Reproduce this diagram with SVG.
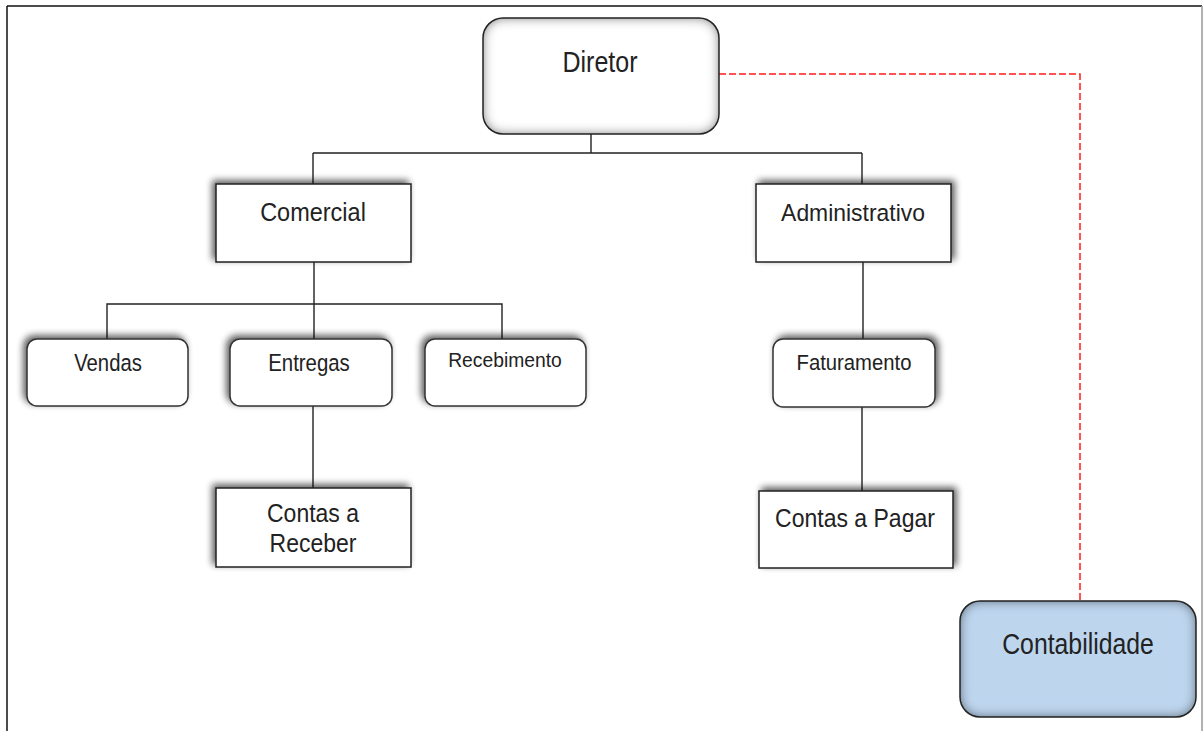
<svg xmlns="http://www.w3.org/2000/svg" width="1203" height="731" viewBox="0 0 1203 731">
<style>
text{font-family:"Liberation Sans",Arial,sans-serif;fill:#222;text-anchor:middle}
.box{fill:#fff;stroke:#222;stroke-width:1.5}
.rbox{fill:#fff;stroke:#333;stroke-width:1.5}
.conn{stroke:#222;stroke-width:1.4;fill:none}
.dash{stroke:#ff1a1a;stroke-width:1.5;fill:none;stroke-dasharray:7 3}
</style>
<defs>
<filter id="shL" x="-20%" y="-30%" width="140%" height="160%">
<feGaussianBlur in="SourceAlpha" stdDeviation="3.5"/>
<feOffset dx="-3" dy="-3" result="b"/>
<feComponentTransfer><feFuncA type="linear" slope="0.65"/></feComponentTransfer>
<feMerge><feMergeNode/><feMergeNode in="SourceGraphic"/></feMerge>
</filter>
<filter id="shR" x="-20%" y="-30%" width="140%" height="160%">
<feGaussianBlur in="SourceAlpha" stdDeviation="3.5"/>
<feOffset dx="3" dy="-3" result="b"/>
<feComponentTransfer><feFuncA type="linear" slope="0.65"/></feComponentTransfer>
<feMerge><feMergeNode/><feMergeNode in="SourceGraphic"/></feMerge>
</filter>
<filter id="inner" x="-10%" y="-10%" width="120%" height="120%">
<feFlood flood-color="#000" flood-opacity="1"/>
<feComposite in2="SourceAlpha" operator="out"/>
<feGaussianBlur stdDeviation="6"/>
<feComposite in2="SourceAlpha" operator="in" result="sh"/>
<feMerge><feMergeNode in="SourceGraphic"/><feMergeNode in="sh"/></feMerge>
</filter>
</defs>
<rect width="1203" height="731" fill="#fff"/>
<g id="frame" fill="none">
<line x1="7" y1="6" x2="1202" y2="6" stroke="#111" stroke-width="1.5"/>
<line x1="7" y1="6" x2="7" y2="731" stroke="#111" stroke-width="1.5"/>
<line x1="1202" y1="6" x2="1202" y2="731" stroke="#999" stroke-width="1.5"/>
</g>
<g id="connectors">
<path class="conn" d="M591 134V153M313 153H862M313 153V184M862 153V184"/>
<path class="conn" d="M314 262V339M107 339V304H502V339"/>
<path class="conn" d="M313 406V488"/>
<path class="conn" d="M863 262V339M862 407V491"/>
<path class="dash" d="M719 74H1080V601"/>
</g>
<g id="diretor">
<rect x="483" y="18" width="236" height="116" rx="20" fill="#fff" filter="url(#inner)"/>
<rect x="483" y="18" width="236" height="116" rx="20" fill="none" stroke="#222" stroke-width="1.5"/>
<text transform="translate(600,72) scale(1,1.15)" font-size="25">Diretor</text>
</g>
<g id="comercial">
<rect class="box" x="216" y="184" width="195" height="78" filter="url(#shL)"/>
<text transform="translate(313,221) scale(1,1.12)" font-size="23.5">Comercial</text>
</g>
<g id="administrativo">
<rect class="box" x="756" y="184" width="195" height="78" filter="url(#shR)"/>
<text transform="translate(853,221) scale(1,1.08)" font-size="22.9">Administrativo</text>
</g>
<g id="vendas">
<rect class="rbox" x="27" y="339" width="161" height="67" rx="10" filter="url(#shL)"/>
<text transform="translate(108,371) scale(1,1.16)" font-size="20.3">Vendas</text>
</g>
<g id="entregas">
<rect class="rbox" x="230" y="339" width="162" height="67" rx="10" filter="url(#shL)"/>
<text transform="translate(309,371) scale(1,1.16)" font-size="20.4">Entregas</text>
</g>
<g id="recebimento">
<rect class="rbox" x="425" y="339" width="161" height="67" rx="10" filter="url(#shL)"/>
<text transform="translate(505,367) scale(1,1.05)" font-size="19.3">Recebimento</text>
</g>
<g id="faturamento">
<rect class="rbox" x="773" y="339" width="162" height="68" rx="10" filter="url(#shR)"/>
<text transform="translate(854,370) scale(1,1.08)" font-size="20.3">Faturamento</text>
</g>
<g id="contas-receber">
<rect class="box" x="216" y="488" width="195" height="79" filter="url(#shL)"/>
<text transform="translate(313,522) scale(1,1.14)" font-size="23">Contas a</text>
<text transform="translate(313,552) scale(1,1.14)" font-size="23">Receber</text>
</g>
<g id="contas-pagar">
<rect class="box" x="759" y="491" width="194" height="77" filter="url(#shR)"/>
<text transform="translate(855,527) scale(1,1.14)" font-size="23">Contas a Pagar</text>
</g>
<g id="contabilidade">
<rect x="960" y="601" width="236" height="116" rx="20" fill="#bdd6ee" filter="url(#inner)"/>
<rect x="960" y="601" width="236" height="116" rx="20" fill="none" stroke="#222" stroke-width="1.5"/>
<text transform="translate(1078,654) scale(1,1.16)" font-size="24.8">Contabilidade</text>
</g>
</svg>
